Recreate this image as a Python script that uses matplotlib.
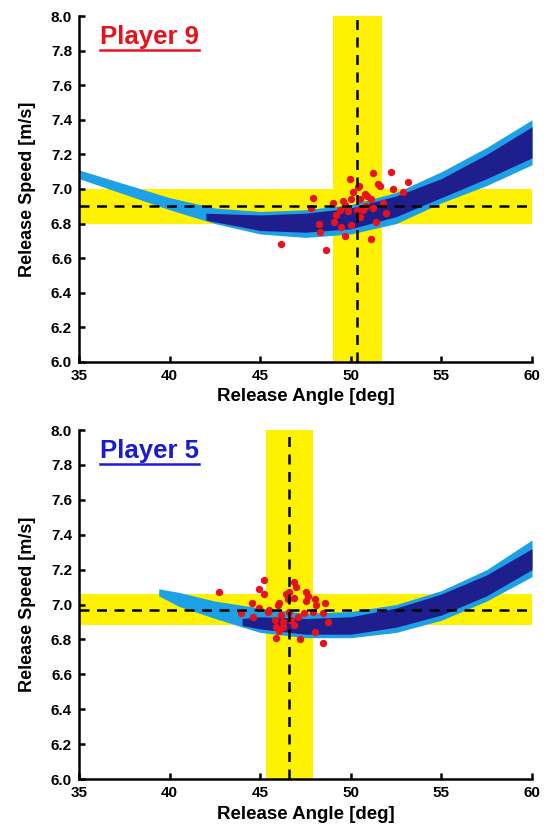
import matplotlib
matplotlib.use("Agg")
import matplotlib.pyplot as plt
from matplotlib.lines import Line2D

plt.rcParams["font.family"] = ["Liberation Sans", "DejaVu Sans"]
plt.rcParams["font.weight"] = "bold"

# ---------------- data: Player 9 ----------------
p9_outer_angle = [35, 37.5, 40, 42.5, 45, 47.5, 50, 52.5, 55, 57.5, 60]
p9_outer_low = [7.06, 6.97, 6.88, 6.80, 6.74, 6.72, 6.74, 6.80, 6.92, 7.02, 7.14]
p9_outer_high = [7.11, 7.03, 6.95, 6.89, 6.87, 6.88, 6.91, 6.98, 7.10, 7.24, 7.40]
p9_inner_angle = [42, 45, 47.5, 50, 52.5, 55, 57.5, 60]
p9_inner_low = [6.82, 6.76, 6.75, 6.77, 6.84, 6.95, 7.06, 7.18]
p9_inner_high = [6.86, 6.85, 6.86, 6.89, 6.96, 7.06, 7.20, 7.36]
p9_angle_mean, p9_angle_lo, p9_angle_hi = 50.35, 49.0, 51.7
p9_speed_mean, p9_speed_lo, p9_speed_hi = 6.90, 6.80, 7.00
p9_shot_angle = [46.16, 48.65, 47.9, 47.8, 48.24, 48.28, 49.7, 51.1, 49.93, 50.43,
                 51.2, 52.2, 51.5, 51.6, 53.15, 52.9, 52.33, 51.96, 51.4, 49.56,
                 50.03, 50.1, 49.38, 49.2, 49.1, 49.47, 50.03, 50.5, 50.76, 50.86,
                 51.13, 50.5, 49.84, 50.33, 50.67, 51.2, 50.4, 49.7, 50.9, 49.0,
                 51.8]
p9_shot_speed = [6.68, 6.65, 6.95, 6.89, 6.80, 6.75, 6.73, 6.71, 7.06, 7.02,
                 7.09, 7.10, 7.03, 7.02, 7.04, 6.98, 7.00, 6.86, 6.81, 6.93,
                 6.94, 6.98, 6.88, 6.85, 6.81, 6.78, 6.79, 6.84, 6.97, 6.90,
                 6.94, 6.94, 6.87, 6.88, 6.88, 6.89, 7.01, 6.91, 6.96, 6.92,
                 6.92]

# ---------------- data: Player 5 ----------------
p5_outer_angle = [39.4, 40.5, 42.5, 45, 47.5, 50, 52.5, 55, 57.5, 60]
p5_outer_low = [7.05, 6.99, 6.92, 6.84, 6.81, 6.81, 6.84, 6.91, 7.02, 7.16]
p5_outer_high = [7.09, 7.07, 7.02, 6.98, 6.95, 6.96, 7.00, 7.08, 7.20, 7.37]
p5_inner_angle = [44, 45, 47.5, 50, 52.5, 55, 57.5, 60]
p5_inner_low = [6.88, 6.86, 6.83, 6.83, 6.87, 6.94, 7.05, 7.20]
p5_inner_high = [6.92, 6.93, 6.92, 6.93, 6.98, 7.06, 7.17, 7.32]
p5_angle_mean, p5_angle_lo, p5_angle_hi = 46.6, 45.3, 47.9
p5_speed_mean, p5_speed_lo, p5_speed_hi = 6.97, 6.88, 7.06
p5_shot_angle = [42.74, 43.94, 44.55, 44.62, 44.92, 45.23, 45.23, 44.96, 45.51, 45.97,
                 46.06, 45.79, 45.88, 45.88, 46.25, 46.06, 46.43, 46.61, 46.89, 46.98,
                 46.89, 46.61, 46.71, 46.89, 47.17, 47.54, 47.63, 47.54, 48.0, 48.1,
                 48.55, 48.46, 48.0, 48.46, 48.73, 47.9, 47.44, 47.07, 46.25, 46.16,
                 46.52, 45.42]
p5_shot_speed = [7.07, 6.95, 7.01, 6.93, 7.09, 7.14, 7.06, 6.98, 6.97, 7.00,
                 7.01, 6.91, 6.87, 6.81, 6.90, 6.85, 7.06, 7.07, 7.13, 7.10,
                 7.04, 6.96, 6.91, 6.88, 6.80, 7.07, 7.05, 7.02, 7.03, 7.00,
                 7.01, 6.95, 6.84, 6.78, 6.90, 6.96, 6.95, 6.93, 6.87, 6.94,
                 7.03, 6.96]

YELLOW = "#fff200"
LIGHT = "#1ea0e6"
DARK = "#1e1e8c"
RED = "#e8121c"


def draw_panel(ax, title, title_color, outer, inner, angle_band, speed_band, shots):
    a_mean, a_lo, a_hi = angle_band
    s_mean, s_lo, s_hi = speed_band
    # yellow tolerance bands
    ax.axvspan(a_lo, a_hi, color=YELLOW, lw=0, zorder=1)
    ax.axhspan(s_lo, s_hi, color=YELLOW, lw=0, zorder=1)
    # feasible release region
    ax.fill_between(outer[0], outer[1], outer[2], color=LIGHT, lw=0, zorder=2)
    ax.fill_between(inner[0], inner[1], inner[2], color=DARK, lw=0, zorder=3)
    # shots
    ax.scatter(shots[0], shots[1], s=28, color=RED, lw=0, zorder=4)
    # means
    ax.axvline(a_mean, color="black", lw=1.8, ls=(0, (4, 3)), zorder=5)
    ax.axhline(s_mean, color="black", lw=1.8, ls=(0, (4, 3)), zorder=5)

    ax.set_xlim(35, 60)
    ax.set_ylim(6.0, 8.0)
    ax.set_xticks([35, 40, 45, 50, 55, 60])
    ax.set_yticks([6.0, 6.2, 6.4, 6.6, 6.8, 7.0, 7.2, 7.4, 7.6, 7.8, 8.0])
    ax.set_yticklabels(["%.1f" % v for v in ax.get_yticks()])
    ax.tick_params(direction="in", length=4, width=1.8, labelsize=11, pad=5)
    for side in ["top", "right"]:
        ax.spines[side].set_visible(False)
    for side in ["left", "bottom"]:
        ax.spines[side].set_linewidth(1.8)
    ax.set_xlabel("Release Angle [deg]", fontsize=13.5, fontweight="bold", labelpad=4)
    ax.set_ylabel("Release Speed [m/s]", fontsize=13, fontweight="bold", labelpad=11)
    t = ax.text(0.047, 0.94, title, transform=ax.transAxes, fontsize=18.5,
                fontweight="bold", color=title_color, va="center", ha="left")
    return t


fig = plt.figure(figsize=(5.47, 8.30), dpi=100)
ax1 = fig.add_axes([0.1444, 0.5639, 0.8282, 0.4168])
ax2 = fig.add_axes([0.1444, 0.0614, 0.8282, 0.4205])

t1 = draw_panel(ax1, "Player 9", "#e8121c",
                (p9_outer_angle, p9_outer_low, p9_outer_high),
                (p9_inner_angle, p9_inner_low, p9_inner_high),
                (p9_angle_mean, p9_angle_lo, p9_angle_hi),
                (p9_speed_mean, p9_speed_lo, p9_speed_hi),
                (p9_shot_angle, p9_shot_speed))
t2 = draw_panel(ax2, "Player 5", "#1a1ad0",
                (p5_outer_angle, p5_outer_low, p5_outer_high),
                (p5_inner_angle, p5_inner_low, p5_inner_high),
                (p5_angle_mean, p5_angle_lo, p5_angle_hi),
                (p5_speed_mean, p5_speed_lo, p5_speed_hi),
                (p5_shot_angle, p5_shot_speed))

# underline the player titles
fig.canvas.draw()
renderer = fig.canvas.get_renderer()
for t in [t1, t2]:
    bb = t.get_window_extent(renderer).transformed(fig.transFigure.inverted())
    y = bb.y0 - 0.001
    fig.add_artist(Line2D([bb.x0, bb.x1], [y, y], transform=fig.transFigure,
                          color=t.get_color(), lw=1.8))

fig.savefig("out.png", dpi=100)
